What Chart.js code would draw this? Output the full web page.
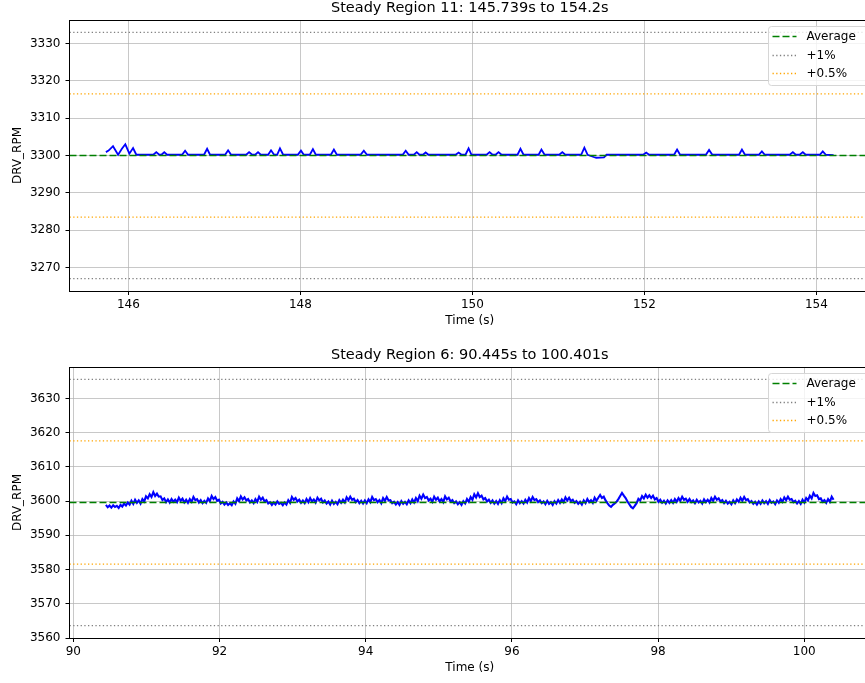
<!DOCTYPE html>
<html>
<head>
<meta charset="utf-8">
<script src="https://cdn.jsdelivr.net/npm/chart.js@4.4.1/dist/chart.umd.min.js"></script>
<style>
  html, body { margin: 0; padding: 0; background: #fff; overflow: hidden; }
  #wrap { position: relative; width: 865px; height: 683px; overflow: hidden; background: #fff; }
  .panel { position: absolute; left: 0; width: 900px; height: 336px; }
</style>
</head>
<body>
<div id="wrap">
  <div class="panel" style="top:0px"><canvas id="c1" width="900" height="336"></canvas></div>
  <div class="panel" style="top:347px"><canvas id="c2" width="900" height="336"></canvas></div>
</div>
<script>
// ---- Steady region 11 ----
const topTitle = 'Steady Region 11: 145.739s to 154.2s';
const topAvg = 3300.0;
const topXTicks = [146, 148, 150, 152, 154];
const topYTicks = [3270, 3280, 3290, 3300, 3310, 3320, 3330];
const topXRange = [145.316, 154.623];
const topYRange = [3263.7, 3336.3];
const topTime = [
  145.739, 145.770, 145.822, 145.881, 145.925, 145.965, 146.012, 146.055, 146.093,
  146.290, 146.325, 146.360, 146.385, 146.418, 146.450,
  146.625, 146.660, 146.695,
  146.880, 146.916, 146.950,
  147.125, 147.160, 147.195,
  147.370, 147.404, 147.440, 147.475, 147.508, 147.540,
  147.625, 147.659, 147.695, 147.730, 147.763, 147.800,
  147.970, 148.007, 148.040, 148.110, 148.146, 148.180,
  148.355, 148.390, 148.425,
  148.700, 148.738, 148.775,
  149.190, 149.225, 149.260, 149.320, 149.353, 149.385, 149.425, 149.457, 149.490,
  149.805, 149.840, 149.875, 149.920, 149.956, 149.990,
  150.165, 150.200, 150.235, 150.270, 150.304, 150.340,
  150.525, 150.559, 150.595,
  150.770, 150.803, 150.840,
  151.010, 151.046, 151.080,
  151.265, 151.302, 151.340,
  151.410, 151.440, 151.530, 151.560,
  151.985, 152.021, 152.055,
  152.345, 152.380, 152.415,
  152.715, 152.752, 152.790,
  153.100, 153.134, 153.170,
  153.330, 153.366, 153.400,
  153.690, 153.726, 153.760, 153.805, 153.842, 153.875,
  154.040, 154.074, 154.110,
  154.200
];
const topRpm = [
  3300.9, 3301.3, 3302.5, 3300.2, 3301.8, 3303.0, 3300.5, 3302.0, 3300.2,
  3300.2, 3300.9, 3300.2, 3300.2, 3300.9, 3300.2,
  3300.2, 3301.3, 3300.2,
  3300.2, 3301.8, 3300.2,
  3300.2, 3301.4, 3300.2,
  3300.2, 3300.9, 3300.2, 3300.2, 3300.9, 3300.2,
  3300.2, 3301.4, 3300.2, 3300.2, 3301.9, 3300.2,
  3300.2, 3301.3, 3300.2, 3300.2, 3301.7, 3300.2,
  3300.2, 3301.6, 3300.2,
  3300.2, 3301.3, 3300.2,
  3300.2, 3301.3, 3300.2, 3300.2, 3300.9, 3300.2, 3300.2, 3300.8, 3300.2,
  3300.2, 3300.8, 3300.2, 3300.2, 3301.9, 3300.2,
  3300.2, 3300.9, 3300.2, 3300.2, 3300.9, 3300.2,
  3300.2, 3301.8, 3300.2,
  3300.2, 3301.6, 3300.2,
  3300.2, 3300.9, 3300.2,
  3300.2, 3302.1, 3300.2,
  3299.6, 3299.4, 3299.5, 3300.2,
  3300.2, 3300.8, 3300.2,
  3300.2, 3301.6, 3300.2,
  3300.2, 3301.5, 3300.2,
  3300.2, 3301.6, 3300.2,
  3300.2, 3301.1, 3300.2,
  3300.2, 3300.9, 3300.2, 3300.2, 3300.9, 3300.2,
  3300.2, 3301.1, 3300.2,
  3300.1
];

// ---- Steady region 6 ----
const botTitle = 'Steady Region 6: 90.445s to 100.401s';
const botAvg = 3599.6;
const botXTicks = [90, 92, 94, 96, 98, 100];
const botYTicks = [3560, 3570, 3580, 3590, 3600, 3610, 3620, 3630];
const botXRange = [89.947, 100.899];
const botYRange = [3560.0, 3639.2];
const botStart = 90.445;
const botStep = 0.02495;   // sample period (s)
const botRpm = [
  3598.9, 3598.2, 3598.7, 3598.1, 3598.8, 3598.3, 3598.6, 3598.0, 3598.9, 3598.4,
  3599.3, 3598.7, 3599.6, 3599.0, 3600.1, 3599.2, 3600.4, 3599.5, 3600.2, 3599.3,
  3600.6, 3599.9, 3601.4, 3600.8, 3602.0, 3601.2, 3602.6, 3601.5, 3602.2, 3601.3,
  3601.4, 3600.3, 3600.8, 3599.7, 3600.5, 3599.6, 3600.6, 3599.8, 3600.4, 3599.7,
  3601.0, 3600.1, 3600.7, 3599.6, 3600.4, 3599.5, 3600.6, 3599.8, 3601.2, 3600.3,
  3600.6, 3599.6, 3600.3, 3599.4, 3600.1, 3599.5, 3600.8, 3600.0, 3601.5, 3600.6,
  3601.2, 3600.1, 3600.4, 3599.3, 3599.8, 3599.0, 3599.6, 3598.9, 3599.4, 3598.8,
  3599.9, 3599.2, 3600.8, 3600.0, 3601.4, 3600.5, 3601.1, 3600.2, 3600.6, 3599.6,
  3600.2, 3599.4, 3600.6, 3599.8, 3601.3, 3600.4, 3601.0, 3599.9, 3600.3, 3599.3,
  3599.7, 3598.9, 3599.6, 3599.0, 3599.9, 3599.2, 3599.5, 3598.8, 3599.6, 3599.0,
  3600.3, 3599.5, 3601.2, 3600.4, 3600.9, 3599.9, 3600.4, 3599.5, 3600.2, 3599.4,
  3600.6, 3599.7, 3600.9, 3599.9, 3600.5, 3599.6, 3601.0, 3600.2, 3600.7, 3599.6,
  3600.2, 3599.3, 3599.9, 3599.0, 3600.1, 3599.2, 3599.8, 3599.1, 3600.3, 3599.5,
  3600.4, 3599.6, 3601.1, 3600.3, 3601.3, 3600.4, 3600.7, 3599.7, 3600.3, 3599.4,
  3600.1, 3599.3, 3600.2, 3599.4, 3600.5, 3599.7, 3601.2, 3600.3, 3600.6, 3599.7,
  3600.3, 3599.4, 3600.9, 3600.1, 3601.2, 3600.2, 3600.3, 3599.4, 3599.8, 3599.0,
  3599.7, 3598.9, 3600.0, 3599.2, 3599.8, 3599.1, 3600.2, 3599.4, 3600.5, 3599.6,
  3600.9, 3600.0, 3601.6, 3600.7, 3601.9, 3600.9, 3601.2, 3600.2, 3600.7, 3599.8,
  3601.3, 3600.4, 3601.0, 3599.9, 3600.6, 3599.7, 3601.4, 3600.5, 3601.0, 3599.9,
  3600.3, 3599.4, 3599.9, 3599.1, 3599.7, 3598.9, 3600.0, 3599.3, 3600.6, 3599.8,
  3601.2, 3600.4, 3602.0, 3601.1, 3602.3, 3601.2, 3601.6, 3600.5, 3600.9, 3599.9,
  3600.4, 3599.5, 3600.2, 3599.3, 3600.0, 3599.2, 3600.3, 3599.4, 3600.8, 3600.0,
  3601.3, 3600.4, 3600.6, 3599.6, 3599.9, 3599.1, 3600.2, 3599.4, 3600.0, 3599.3,
  3600.4, 3599.6, 3600.9, 3600.0, 3601.2, 3600.3, 3600.6, 3599.7, 3600.2, 3599.4,
  3599.9, 3599.1, 3600.1, 3599.2, 3599.7, 3598.9, 3600.0, 3599.3, 3600.3, 3599.5,
  3600.5, 3599.7, 3601.1, 3600.2, 3601.0, 3600.0, 3600.4, 3599.5, 3600.0, 3599.2,
  3599.8, 3599.0, 3600.2, 3599.4, 3600.6, 3599.7, 3600.3, 3599.5, 3601.0, 3600.1,
  3601.0, 3601.8, 3600.9, 3601.3, 3600.2, 3599.4, 3598.7, 3598.3, 3598.9, 3599.3,
  3599.8, 3600.6, 3601.5, 3602.4, 3601.6, 3600.9, 3599.9, 3599.1, 3598.3, 3597.9,
  3598.6, 3599.4, 3600.7, 3600.2, 3601.5, 3600.8, 3601.9, 3601.0, 3601.7, 3600.9,
  3601.6, 3600.5, 3600.9, 3599.8, 3600.4, 3599.5, 3600.1, 3599.3, 3600.2, 3599.5,
  3600.3, 3599.5, 3600.6, 3599.8, 3600.9, 3600.1, 3601.3, 3600.4, 3600.7, 3599.8,
  3600.6, 3599.7, 3600.2, 3599.4, 3600.4, 3599.6, 3600.1, 3599.3, 3600.5, 3599.7,
  3600.4, 3599.6, 3600.9, 3600.1, 3601.3, 3600.4, 3600.8, 3599.9, 3600.3, 3599.4,
  3600.1, 3599.3, 3599.8, 3599.1, 3600.2, 3599.4, 3600.5, 3599.8, 3601.0, 3600.1,
  3601.2, 3600.3, 3600.6, 3599.6, 3600.0, 3599.2, 3599.8, 3599.0, 3599.9, 3599.2,
  3600.2, 3599.4, 3600.0, 3599.2, 3600.3, 3599.5, 3599.9, 3599.1, 3600.2, 3599.5,
  3600.6, 3599.8, 3601.1, 3600.3, 3601.3, 3600.4, 3600.6, 3599.7, 3600.1, 3599.3,
  3600.0, 3599.2, 3600.4, 3599.6, 3600.9, 3600.2, 3601.6, 3600.8, 3602.4, 3601.5,
  3601.7, 3600.6, 3600.8, 3599.8, 3600.3, 3599.5, 3600.6, 3599.8, 3601.3, 3600.4
];

const FONT = "'DejaVu Sans', sans-serif";
const GRID = 'rgba(176,176,176,0.7)';

// full frame around the plotting area (all four spines)
const framePlugin = {
  id: 'frame',
  afterDatasetsDraw(chart) {
    const a = chart.chartArea, ctx = chart.ctx;
    ctx.save();
    ctx.strokeStyle = '#000';
    ctx.lineWidth = 1;
    ctx.strokeRect(Math.floor(a.left) + 0.5, Math.floor(a.top) + 0.5,
                   Math.round(a.right - a.left), Math.round(a.bottom - a.top));
    ctx.restore();
  }
};

// boxed legend in the upper right of the plotting area
const boxLegendPlugin = {
  id: 'boxLegend',
  afterDraw(chart) {
    const a = chart.chartArea, ctx = chart.ctx;
    const items = chart.data.datasets.filter(d => d.inLegend);
    const x0 = a.right - 101.5, y0 = a.top + 6.5, w = 130, h = 59, r = 3;
    ctx.save();
    ctx.beginPath();
    ctx.moveTo(x0 + r, y0);
    ctx.lineTo(x0 + w - r, y0);
    ctx.arcTo(x0 + w, y0, x0 + w, y0 + r, r);
    ctx.lineTo(x0 + w, y0 + h - r);
    ctx.arcTo(x0 + w, y0 + h, x0 + w - r, y0 + h, r);
    ctx.lineTo(x0 + r, y0 + h);
    ctx.arcTo(x0, y0 + h, x0, y0 + h - r, r);
    ctx.lineTo(x0, y0 + r);
    ctx.arcTo(x0, y0, x0 + r, y0, r);
    ctx.closePath();
    ctx.fillStyle = 'rgba(255,255,255,0.8)';
    ctx.fill();
    ctx.strokeStyle = '#d6d6d6';
    ctx.lineWidth = 1;
    ctx.stroke();
    items.forEach((d, i) => {
      const y = Math.round(a.top + 16.3 + i * 18.5) + 0.5;
      ctx.strokeStyle = d.borderColor;
      ctx.lineWidth = d.borderWidth;
      ctx.setLineDash(d.borderDash || []);
      ctx.beginPath();
      ctx.moveTo(x0 + 4, y);
      ctx.lineTo(x0 + 28, y);
      ctx.stroke();
      ctx.setLineDash([]);
      ctx.fillStyle = '#000';
      ctx.font = '12px ' + FONT;
      ctx.textBaseline = 'middle';
      ctx.textAlign = 'left';
      ctx.fillText(d.label, x0 + 38, y);
    });
    ctx.restore();
  }
};

function refLine(label, value, xr, color, dash, inLegend) {
  return {
    label: label,
    data: [{ x: xr[0], y: value }, { x: xr[1], y: value }],
    borderColor: color,
    borderWidth: dash[0] > 3 ? 1.4 : 1.3,
    borderDash: dash,
    pointRadius: 0,
    fill: false,
    inLegend: inLegend
  };
}

function buildChart(canvasId, title, avg, points, xr, yr, xTicks, yTicks, lineW) {
  const DASH = [7, 3];
  const DOT = [1.3, 2.4];
  const datasets = [
    refLine('Average', avg, xr, 'green', DASH, true),
    refLine('+1%', avg * 1.01, xr, 'gray', DOT, true),
    refLine('-1%', avg * 0.99, xr, 'gray', DOT, false),
    refLine('+0.5%', avg * 1.005, xr, 'orange', DOT, true),
    refLine('-0.5%', avg * 0.995, xr, 'orange', DOT, false),
    {
      label: 'DRV_RPM',
      data: points,
      borderColor: 'blue',
      borderWidth: lineW,
      pointRadius: 0,
      fill: false,
      tension: 0
    }
  ];
  return new Chart(document.getElementById(canvasId), {
    type: 'line',
    data: { datasets: datasets },
    options: {
      responsive: false,
      animation: false,
      devicePixelRatio: 1,
      layout: { padding: { left: 0, right: 30, top: 0, bottom: 0 } },
      plugins: {
        legend: { display: false },
        tooltip: { enabled: false },
        title: {
          display: true,
          text: title,
          fullSize: false,
          color: '#000',
          font: { family: FONT, size: 14.5, weight: 'normal' },
          padding: { top: 0, bottom: 2.6 }
        }
      },
      scales: {
        x: {
          type: 'linear',
          min: xr[0],
          max: xr[1],
          afterBuildTicks: s => { s.ticks = xTicks.map(v => ({ value: v })); },
          afterFit: s => { s.height = 45; },
          ticks: {
            color: '#000',
            font: { family: FONT, size: 12 },
            padding: 3,
            maxRotation: 0,
            autoSkip: false,
            callback: v => String(v)
          },
          grid: { color: GRID, tickColor: '#000', tickLength: 4, lineWidth: 1 },
          border: { display: false },
          title: {
            display: true,
            text: 'Time (s)',
            color: '#000',
            font: { family: FONT, size: 12 },
            padding: { top: 0, bottom: 7.8 }
          }
        },
        y: {
          type: 'linear',
          min: yr[0],
          max: yr[1],
          afterBuildTicks: s => { s.ticks = yTicks.map(v => ({ value: v })); },
          afterFit: s => { s.width = 69.5; },
          ticks: {
            color: '#000',
            font: { family: FONT, size: 12 },
            padding: 5,
            autoSkip: false,
            callback: v => String(v)
          },
          grid: { color: GRID, tickColor: '#000', tickLength: 4, lineWidth: 1 },
          border: { display: false },
          title: {
            display: true,
            text: 'DRV_RPM',
            color: '#000',
            font: { family: FONT, size: 12 },
            padding: { top: 10.8, bottom: 0 }
          }
        }
      }
    },
    plugins: [framePlugin, boxLegendPlugin]
  });
}

const topPoints = topTime.map((t, i) => ({ x: t, y: topRpm[i] }));
const botPoints = botRpm.map((v, i) => ({ x: botStart + i * botStep, y: v }));

buildChart('c1', topTitle, topAvg, topPoints, topXRange, topYRange, topXTicks, topYTicks, 1.8);
buildChart('c2', botTitle, botAvg, botPoints, botXRange, botYRange, botXTicks, botYTicks, 2.1);
</script>
</body>
</html>
